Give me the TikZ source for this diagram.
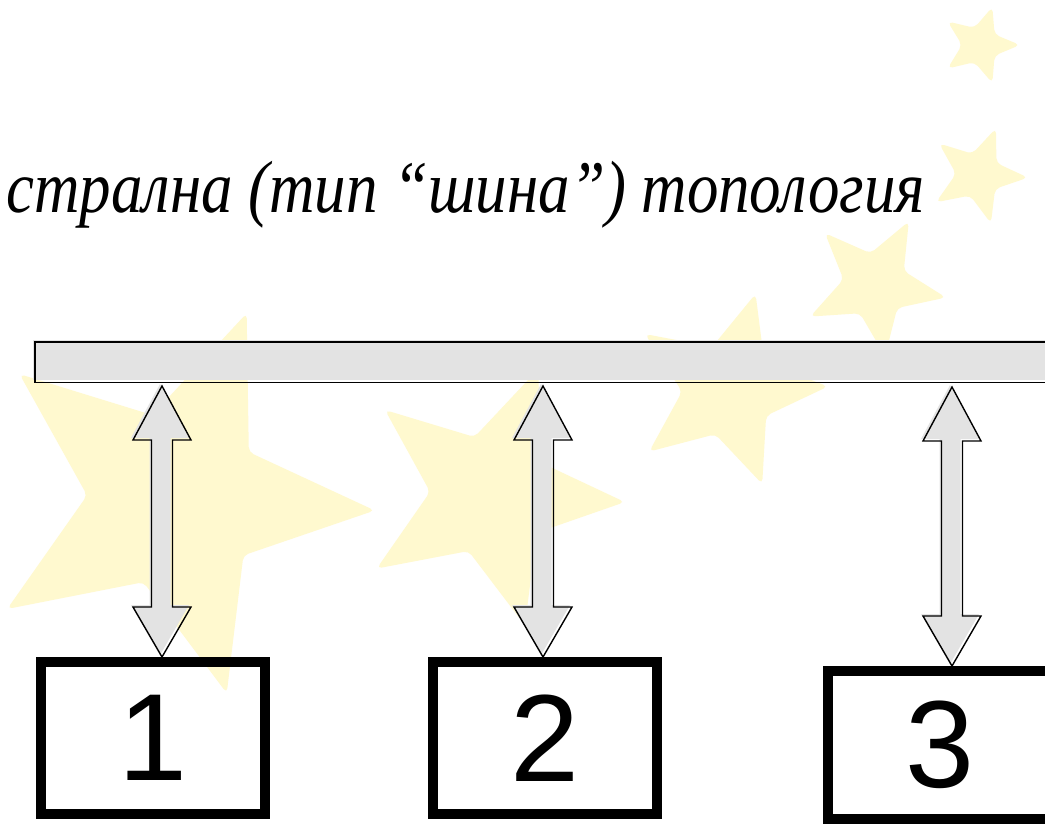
\documentclass[tikz,border=0pt]{standalone}
\usepackage{fontspec}
\setmainfont{Liberation Serif}
\newfontfamily\digitfont{Liberation Sans}
\usetikzlibrary{calc}
\definecolor{starcol}{RGB}{255,249,207}
\definecolor{barfill}{RGB}{227,227,227}
\tikzset{
  busbox/.style={rectangle, inner sep=0pt, minimum width=1025, minimum height=40},
  station/.style={rectangle, draw=black, line width=10pt, inner sep=0pt,
    minimum width=224, minimum height=152,
    font=\digitfont\fontsize{124}{124}\selectfont},
  titletext/.style={font=\itshape\fontsize{74}{74}\selectfont, inner sep=0pt},
  outline/.style={draw=black, line width=1.4pt},
}
% background star: cx, cy, rotation, outer r, inner r
\newcommand\bgstar[5]{%
  \fill[starcol, shift={(#1,#2)}, rounded corners=5pt]
   (#3:#4pt) -- (#3+36:#5pt) -- (#3+72:#4pt) -- (#3+108:#5pt) -- (#3+144:#4pt)
   -- (#3+180:#5pt) -- (#3+216:#4pt) -- (#3+252:#5pt) -- (#3+288:#4pt)
   -- (#3+324:#5pt) -- cycle;}
% double block arrow from named top point to named bottom point
\newcommand\blockarrow[2]{%
  \begin{scope}[transform canvas={shift={(-2pt,2pt)}}]
  \fill[barfill] let \p1=(#1), \p2=(#2) in
   (\x1,\y1) -- (\x1+29pt,\y1-54pt) -- (\x1+10.5pt,\y1-54pt) -- (\x1+10.5pt,\y2+50pt)
   -- (\x1+29pt,\y2+50pt) -- (\x1,\y2) -- (\x1-29pt,\y2+50pt) -- (\x1-10.5pt,\y2+50pt)
   -- (\x1-10.5pt,\y1-54pt) -- (\x1-29pt,\y1-54pt) -- cycle;
  \end{scope}
  \draw[outline, line join=miter] let \p1=(#1), \p2=(#2) in
   (\x1,\y1) -- (\x1+29pt,\y1-54pt) -- (\x1+10.5pt,\y1-54pt) -- (\x1+10.5pt,\y2+50pt)
   -- (\x1+29pt,\y2+50pt) -- (\x1,\y2) -- (\x1-29pt,\y2+50pt) -- (\x1-10.5pt,\y2+50pt)
   -- (\x1-10.5pt,\y1-54pt) -- (\x1-29pt,\y1-54pt) -- cycle;}
\begin{document}
\begin{tikzpicture}[x=1pt,y=-1pt]
\useasboundingbox (0,0) rectangle (1045,824);
\clip (0,0) rectangle (1045,824);
\fill[white] (0,0) rectangle (1045,824);
% background stars
\bgstar{175}{500}{69}{200}{88}
\bgstar{490}{495}{-3}{135}{60}
\bgstar{728}{390}{2}{100}{46}
\bgstar{875}{285}{-10}{72}{32}
\bgstar{978}{175}{-3}{50}{22}
\bgstar{980}{45}{0}{40}{18}
% title
\node[titletext, anchor=base east] (title) at (925,213) {\scalebox{0.85}[1]{стрална (тип “шина”) топология}};
% bus
\node[busbox] (bus) at (547.5,362) {};
\begin{scope}[transform canvas={shift={(-2pt,2pt)}}]
\fill[barfill] (bus.south west) rectangle (bus.north east);
\end{scope}
\draw[outline] (bus.south west) rectangle (bus.north east);
% stations
\node[station] (b1) at (153,738) {\raisebox{-5pt}{1}};
\node[station] (b2) at (545,738) {\raisebox{-5pt}{2}};
\node[station, minimum height=148] (b3) at (940,745) {\raisebox{-3pt}{3}};
% connectors
\coordinate (t1) at (162,386);
\coordinate (t2) at (543,386);
\coordinate (t3) at (952,387);
\coordinate (e1) at (t1 |- b1.north);
\coordinate (e2) at (t2 |- b2.north);
\coordinate (e3) at (t3 |- b3.north);
\blockarrow{t1}{e1}
\blockarrow{t2}{e2}
\blockarrow{t3}{e3}
\end{tikzpicture}
\end{document}
